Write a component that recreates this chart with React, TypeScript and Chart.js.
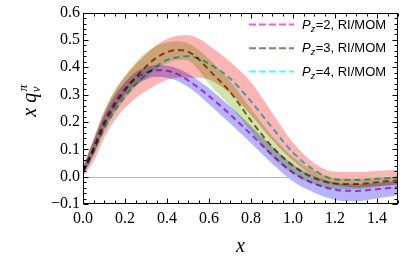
import React, { useEffect, useRef } from "react";
import { Chart, registerables } from "chart.js";

Chart.register(...registerables);

// ---- data ----
const xs = [0, 0.05, 0.1, 0.15, 0.2, 0.25, 0.3, 0.35, 0.4, 0.45, 0.5, 0.55, 0.6, 0.7, 0.8, 0.9, 1.0, 1.1, 1.2, 1.3, 1.4, 1.5];

// Pz=2 (magenta line, blue band)
const pz2Line = [0.02, 0.105, 0.2, 0.27, 0.322, 0.36, 0.38, 0.389, 0.387, 0.375, 0.352, 0.325, 0.295, 0.228, 0.155, 0.08, 0.015, -0.025, -0.048, -0.052, -0.046, -0.038];
const pz2Upper = [0.035, 0.13, 0.225, 0.295, 0.345, 0.382, 0.4, 0.408, 0.406, 0.396, 0.377, 0.352, 0.323, 0.258, 0.185, 0.11, 0.045, 0.002, -0.022, -0.028, -0.022, -0.015];
const pz2Lower = [0.005, 0.08, 0.175, 0.245, 0.298, 0.335, 0.355, 0.365, 0.362, 0.35, 0.328, 0.3, 0.265, 0.195, 0.122, 0.048, -0.018, -0.058, -0.085, -0.09, -0.08, -0.068];

// Pz=3 (brown line, green band)
const pz3Line = [0.02, 0.1, 0.19, 0.26, 0.315, 0.362, 0.403, 0.435, 0.455, 0.463, 0.457, 0.43, 0.39, 0.31, 0.205, 0.11, 0.04, -0.005, -0.025, -0.027, -0.02, -0.013];
const pz3Upper = [0.035, 0.14, 0.24, 0.315, 0.37, 0.417, 0.455, 0.48, 0.492, 0.495, 0.488, 0.465, 0.43, 0.35, 0.248, 0.15, 0.072, 0.022, -0.005, -0.008, -0.004, 0.0];
const pz3Lower = [0.005, 0.075, 0.16, 0.23, 0.285, 0.328, 0.363, 0.395, 0.415, 0.428, 0.425, 0.39, 0.34, 0.26, 0.165, 0.072, 0.01, -0.028, -0.045, -0.045, -0.037, -0.028];

// Pz=4 (cyan line, red band)
const pz4Line = [0.015, 0.09, 0.175, 0.24, 0.293, 0.337, 0.373, 0.404, 0.427, 0.437, 0.44, 0.432, 0.413, 0.36, 0.275, 0.18, 0.088, 0.025, -0.01, -0.012, -0.008, -0.003];
const pz4Upper = [0.035, 0.135, 0.235, 0.31, 0.365, 0.41, 0.448, 0.48, 0.503, 0.515, 0.517, 0.505, 0.48, 0.42, 0.345, 0.235, 0.125, 0.05, 0.018, 0.017, 0.021, 0.025];
const pz4Lower = [0.0, 0.055, 0.14, 0.205, 0.252, 0.287, 0.313, 0.336, 0.354, 0.362, 0.362, 0.362, 0.355, 0.305, 0.225, 0.135, 0.058, 0.0, -0.03, -0.04, -0.035, -0.03];

const xTickValues = [0, 0.2, 0.4, 0.6, 0.8, 1.0, 1.2, 1.4];
const yTickValues = [-0.1, 0, 0.1, 0.2, 0.3, 0.4, 0.5, 0.6];
const legendPz = ["2", "3", "4"];
const legendSuffix = ", RI/MOM";

// ---- styles ----
const LINE_COLORS = ["rgb(245,40,245)", "rgb(150,100,55)", "rgb(40,240,240)"];
const LEGEND_COLORS = ["rgb(255,80,255)", "rgb(160,120,90)", "rgb(80,250,250)"];
const BAND_COLORS = ["rgb(180,180,255)", "rgb(206,230,168)", "rgb(255,180,180)"];

const pts = (ys: number[]) => xs.map((x, i) => ({ x, y: ys[i] }));

const bandPair = (upper: number[], lower: number[], color: string) => [
  {
    data: pts(upper),
    fill: "+1",
    backgroundColor: color,
    borderColor: "transparent",
    borderWidth: 0,
    pointRadius: 0,
    cubicInterpolationMode: "monotone",
  },
  {
    data: pts(lower),
    fill: false,
    borderColor: "transparent",
    borderWidth: 0,
    pointRadius: 0,
    cubicInterpolationMode: "monotone",
  },
];

const dashedLine = (ys: number[], color: string) => ({
  data: pts(ys),
  fill: false,
  borderColor: color,
  borderWidth: 2,
  borderDash: [6, 4],
  pointRadius: 0,
  cubicInterpolationMode: "monotone",
});

const framePlugin = {
  id: "mmaFrame",
  beforeDraw(chart: any) {
    chart.ctx.globalCompositeOperation = "multiply";
  },
  afterDatasetsDraw(chart: any) {
    const { ctx, chartArea, scales } = chart;
    ctx.save();
    ctx.globalCompositeOperation = "destination-over";
    const py = Math.round(scales.y.getPixelForValue(0)) + 0.5;
    ctx.strokeStyle = "#b4b4b4";
    ctx.lineWidth = 1;
    ctx.beginPath();
    ctx.moveTo(chartArea.left, py);
    ctx.lineTo(chartArea.right, py);
    ctx.stroke();
    ctx.restore();
  },
  afterDraw(chart: any) {
    const { ctx, chartArea, scales } = chart;
    const { left, right, top, bottom } = chartArea;
    ctx.save();
    ctx.globalCompositeOperation = "source-over";
    ctx.strokeStyle = "#000";
    ctx.lineWidth = 1;
    const L = Math.round(left) + 0.5, R = Math.round(right) - 0.5;
    const T = Math.round(top) + 0.5, B = Math.round(bottom) - 0.5;
    ctx.strokeRect(L, T, R - L, B - T);
    ctx.beginPath();
    // x ticks every 0.05, major at 0.2
    for (let k = 0; k <= 30; k++) {
      const v = k * 0.05;
      const px = Math.round(scales.x.getPixelForValue(v)) + 0.5;
      const len = k % 4 === 0 ? 5 : 3;
      ctx.moveTo(px, B); ctx.lineTo(px, B - len);
      ctx.moveTo(px, T); ctx.lineTo(px, T + len);
    }
    // y ticks every 0.02, major at 0.1
    for (let k = -5; k <= 30; k++) {
      const v = k * 0.02;
      const py = Math.round(scales.y.getPixelForValue(v)) + 0.5;
      const len = k % 5 === 0 ? 5 : 3;
      ctx.moveTo(L, py); ctx.lineTo(L + len, py);
      ctx.moveTo(R, py); ctx.lineTo(R - len, py);
    }
    ctx.stroke();

    // axis titles
    ctx.fillStyle = "#000";
    ctx.textBaseline = "alphabetic";
    ctx.font = "italic 20px 'Liberation Serif'";
    ctx.textAlign = "center";
    ctx.fillText("x", (left + right) / 2, 252);

    // y title: x q_v^π rotated
    ctx.save();
    ctx.translate(36, 101);
    ctx.rotate(-Math.PI / 2);
    ctx.textAlign = "left";
    const big = "italic 20px 'Liberation Serif'";
    const small = "italic 13px 'Liberation Serif'";
    ctx.font = big;
    const wx = ctx.measureText("x ").width;
    const wq = ctx.measureText("q").width;
    ctx.font = small;
    const wpi = ctx.measureText("π").width;
    const wv = ctx.measureText("v").width;
    const total = wx + wq + Math.max(wpi, wv) + 1;
    let cx = -total / 2;
    ctx.font = big;
    ctx.fillText("x", cx, 0);
    cx += wx;
    ctx.fillText("q", cx, 0);
    cx += wq + 0.5;
    ctx.font = small;
    ctx.fillText("π", cx + 1, -9);
    ctx.fillText("v", cx, 4);
    ctx.restore();

    // legend
    const rows = [24, 47.7, 71];
    for (let i = 0; i < legendPz.length; i++) {
      const y = rows[i];
      ctx.strokeStyle = LEGEND_COLORS[i];
      ctx.lineWidth = 2;
      ctx.setLineDash([7, 3]);
      ctx.beginPath();
      ctx.moveTo(249, y + 0.5);
      ctx.lineTo(294, y + 0.5);
      ctx.stroke();
      ctx.setLineDash([]);
      ctx.fillStyle = "#000";
      ctx.textAlign = "left";
      ctx.textBaseline = "middle";
      let tx = 302;
      ctx.font = "italic 13px 'Liberation Sans'";
      ctx.fillText("P", tx, y + 1);
      tx += ctx.measureText("P").width;
      ctx.font = "italic 9px 'Liberation Sans'";
      ctx.fillText("z", tx, y + 5);
      tx += ctx.measureText("z").width + 0.5;
      ctx.font = "13px 'Liberation Sans'";
      ctx.fillText("=" + legendPz[i] + legendSuffix, tx, y + 1);
    }
    ctx.restore();
    ctx.globalCompositeOperation = "source-over";
  },
};

export default function App() {
  const ref = useRef<HTMLCanvasElement | null>(null);
  useEffect(() => {
    if (!ref.current) return;
    const datasets: any[] = [
      ...bandPair(pz2Upper, pz2Lower, BAND_COLORS[0]),
      ...bandPair(pz3Upper, pz3Lower, BAND_COLORS[1]),
      ...bandPair(pz4Upper, pz4Lower, BAND_COLORS[2]),
      dashedLine(pz2Line, LINE_COLORS[0]),
      dashedLine(pz3Line, LINE_COLORS[1]),
      dashedLine(pz4Line, LINE_COLORS[2]),
    ];
    const chart = new Chart(ref.current, {
      type: "line",
      data: { datasets },
      options: {
        animation: false,
        responsive: false,
        events: [],
        layout: { padding: { left: 0, right: 17, top: 11, bottom: 0 } },
        plugins: { legend: { display: false }, tooltip: { enabled: false } },
        scales: {
          x: {
            type: "linear",
            min: 0,
            max: 1.5,
            grid: { display: false, drawTicks: false },
            border: { display: false },
            afterBuildTicks: (s: any) => {
              s.ticks = xTickValues.map((v) => ({ value: v }));
            },
            afterFit: (s: any) => {
              s.height = 53;
            },
            ticks: {
              padding: 5,
              maxRotation: 0,
              autoSkip: false,
              color: "#000",
              font: { family: "'Liberation Serif'", size: 16 },
              callback: (v: any) => Number(v).toFixed(1),
            },
          },
          y: {
            type: "linear",
            min: -0.1,
            max: 0.6,
            grid: { display: false, drawTicks: false },
            border: { display: false },
            afterBuildTicks: (s: any) => {
              s.ticks = yTickValues.map((v) => ({ value: v }));
            },
            afterFit: (s: any) => {
              s.width = 83;
            },
            ticks: {
              padding: 3,
              autoSkip: false,
              color: "#000",
              font: { family: "'Liberation Serif'", size: 16 },
              callback: (v: any) => {
                const n = Number(v);
                const s = Math.abs(n).toFixed(1);
                return n < -1e-9 ? "\u2212" + s : s;
              },
            },
          },
        },
      },
      plugins: [framePlugin],
    } as any);
    return () => chart.destroy();
  }, []);
  return (
    <div style={{ position: "fixed", left: 0, top: 0, width: 415, height: 257, background: "#fff" }}>
      <canvas ref={ref} width={415} height={257} style={{ width: 415, height: 257, display: "block" }} />
    </div>
  );
}
